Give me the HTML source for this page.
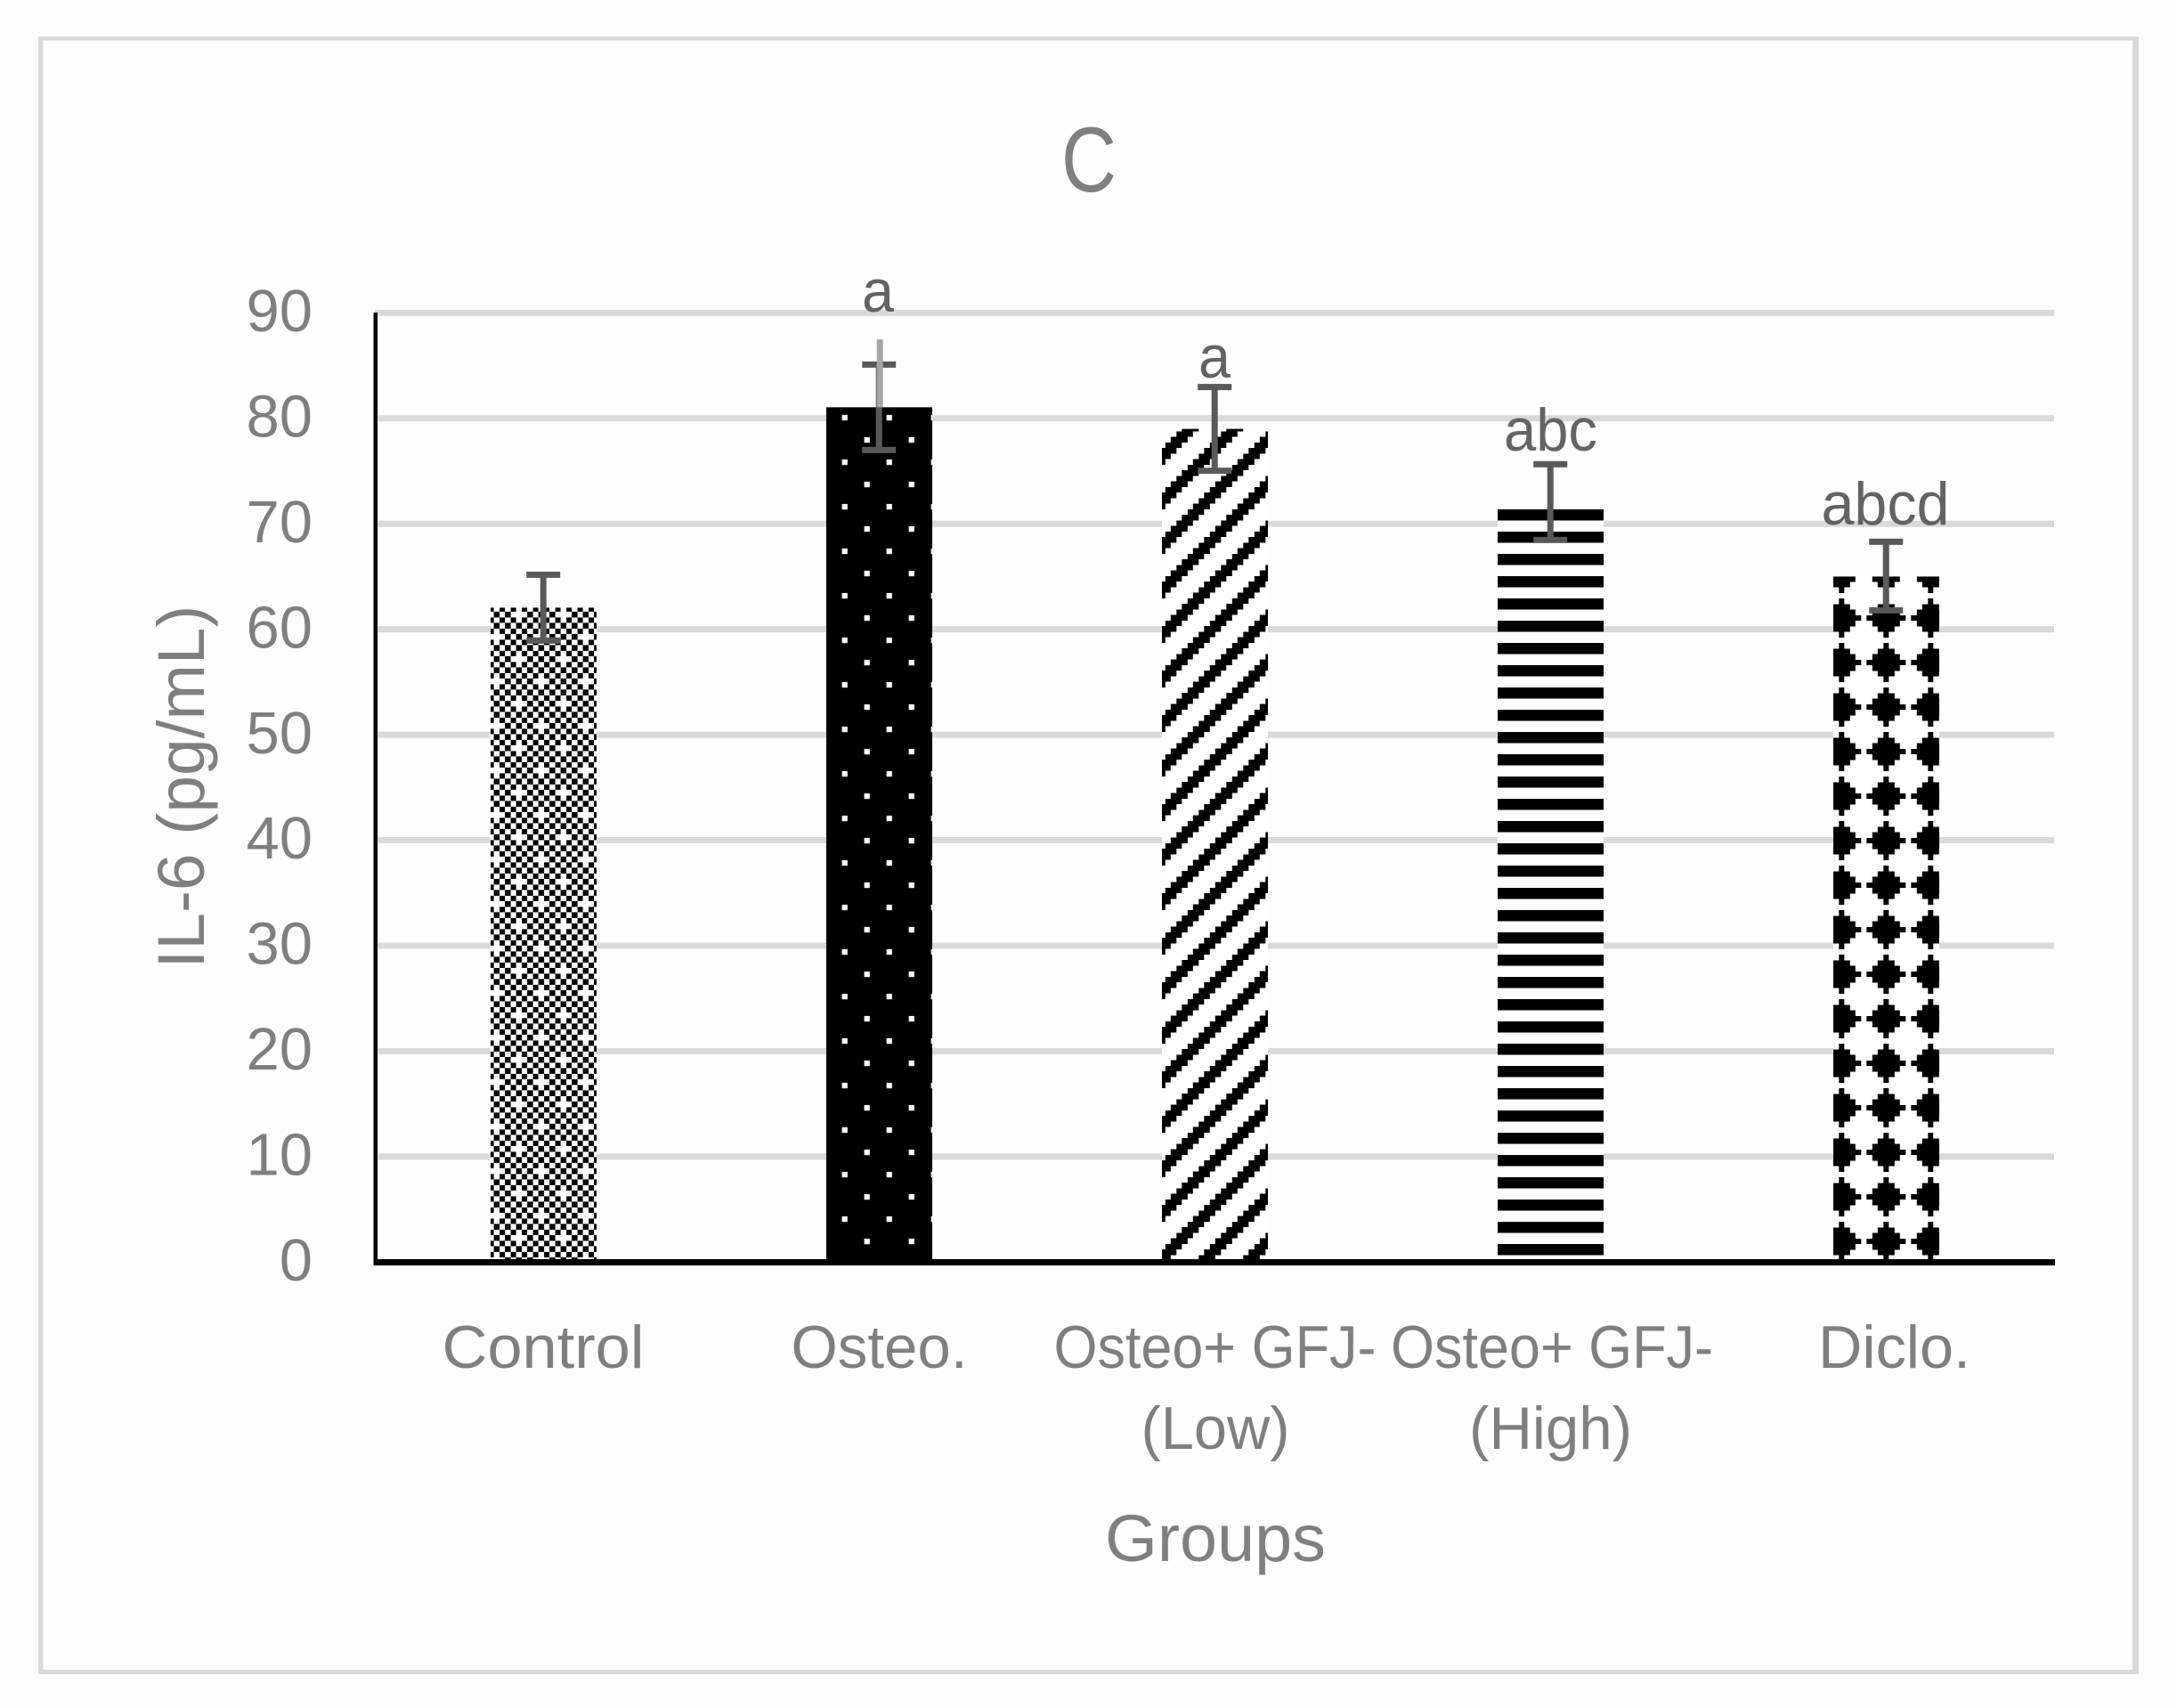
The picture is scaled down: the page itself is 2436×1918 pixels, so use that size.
<!DOCTYPE html>
<html lang="en">
<head>
<meta charset="utf-8">
<title>IL-6 by group</title>
<style>
  html, body { margin: 0; padding: 0; background: #fefefe; }
  svg { display: block; }
  text { font-family: "Liberation Sans", sans-serif; fill: #7f7f7f; }
  .sig { fill: #636363; font-size: 68px; text-anchor: middle; }
  .cat { font-size: 68px; text-anchor: middle; }
</style>
</head>
<body>
<svg id="chart" xmlns="http://www.w3.org/2000/svg" width="2436" height="1918" viewBox="0 0 2436 1918">
  <defs>
    <pattern id="p-checker" patternUnits="userSpaceOnUse" x="579.6" y="786.9" width="50" height="50">
      <rect width="50" height="50" fill="#fff"/><path id="d-checker" fill="#000" shape-rendering="crispEdges"/>
    </pattern>
    <pattern id="p-dots" patternUnits="userSpaceOnUse" x="945.6" y="465.9" width="50" height="50">
      <rect width="50" height="50" fill="#000"/>
      <rect x="0" y="0" width="6.25" height="6.25" fill="#fff"/>
      <rect x="25" y="25" width="6.25" height="6.25" fill="#fff"/>
    </pattern>
    <pattern id="p-diagonal" patternUnits="userSpaceOnUse" x="1327.3" y="478" width="50" height="50">
      <rect width="50" height="50" fill="#fff"/><path id="d-diagonal" fill="#000" shape-rendering="crispEdges"/>
    </pattern>
    <pattern id="p-hstripe" patternUnits="userSpaceOnUse" x="0" y="572" width="50" height="25">
      <rect width="50" height="25" fill="#fff"/>
      <rect width="50" height="12.5" fill="#000"/>
    </pattern>
    <pattern id="p-diamond" patternUnits="userSpaceOnUse" x="2093.3" y="669" width="50" height="50">
      <rect width="50" height="50" fill="#fff"/><path id="d-diamond" fill="#000" shape-rendering="crispEdges"/>
    </pattern>
  </defs>

  <rect width="2436" height="1918" fill="#fefefe"/>
  <g fill="#d9d9d9">
    <rect x="43" y="41" width="2359" height="4.5"/>
    <rect x="43" y="1875" width="2359" height="5"/>
    <rect x="43" y="41" width="5.5" height="1839"/>
    <rect x="2395" y="41" width="7" height="1839"/>
  </g>

  <text x="1223" y="215" font-size="104" text-anchor="middle" textLength="62" lengthAdjust="spacingAndGlyphs">C</text>

  <g id="grid"></g>
  <g id="yticks"></g>
  <g id="bars"></g>

  <rect x="419.5" y="351" width="4.5" height="1070" fill="#000"/>
  <rect x="421" y="1414" width="1887" height="7" fill="#000"/>

  <g id="errors"></g>

  <text class="sig" x="986" y="350" textLength="36" lengthAdjust="spacingAndGlyphs">a</text>
  <text class="sig" x="1364" y="424" textLength="36" lengthAdjust="spacingAndGlyphs">a</text>
  <text class="sig" x="1741.5" y="506" textLength="105" lengthAdjust="spacingAndGlyphs">abc</text>
  <text class="sig" x="2117.5" y="589" textLength="144" lengthAdjust="spacingAndGlyphs">abcd</text>

  <g>
    <text class="cat" x="610" y="1536" textLength="227" lengthAdjust="spacingAndGlyphs">Control</text>
    <text class="cat" x="987.5" y="1536" textLength="198" lengthAdjust="spacingAndGlyphs">Osteo.</text>
    <text class="cat" x="1364.5" y="1536" textLength="362" lengthAdjust="spacingAndGlyphs">Osteo+ GFJ-</text>
    <text class="cat" x="1365" y="1627" textLength="167" lengthAdjust="spacingAndGlyphs">(Low)</text>
    <text class="cat" x="1743" y="1536" textLength="362" lengthAdjust="spacingAndGlyphs">Osteo+ GFJ-</text>
    <text class="cat" x="1741.5" y="1627" textLength="183" lengthAdjust="spacingAndGlyphs">(High)</text>
    <text class="cat" x="2127.5" y="1536" textLength="171" lengthAdjust="spacingAndGlyphs">Diclo.</text>
  </g>

  <text x="1365" y="1753" font-size="74" text-anchor="middle" textLength="248" lengthAdjust="spacingAndGlyphs">Groups</text>
  <text transform="translate(229 883.5) rotate(-90)" font-size="74" text-anchor="middle" textLength="408" lengthAdjust="spacingAndGlyphs">IL-6 (pg/mL)</text>
</svg>

<script>
const categories = ['Control', 'Osteo.', 'Osteo+ GFJ- (Low)', 'Osteo+ GFJ- (High)', 'Diclo.'];
const il6Values = [62.05, 81.05, 79.0, 71.4, 65.0];
const errorUp = [3.12, 4.05, 3.97, 4.25, 3.3];
const errorDown = [3.12, 4.05, 3.97, 2.93, 3.2];
const strayWhiskerUp = [0, 6.44, 0, 0, 0];
const yTicks = [0, 10, 20, 30, 40, 50, 60, 70, 80, 90];
const barPatterns = ['p-checker', 'p-dots', 'p-diagonal', 'p-hstripe', 'p-diamond'];

const SVG_NS = 'http://www.w3.org/2000/svg';
const CELL = 6.25;

function xScale(i) { return 610.5 + i * 377; }
function yScale(v) { return 1417.3 - v * 11.844; }

function rect(parent, x, y, w, h, fill) {
  const el = document.createElementNS(SVG_NS, 'rect');
  el.setAttribute('x', x);
  el.setAttribute('y', y);
  el.setAttribute('width', w);
  el.setAttribute('height', h);
  el.setAttribute('fill', fill);
  parent.appendChild(el);
  return el;
}
function cell(c, r, n) {
  return 'M' + (c * CELL) + ' ' + (r * CELL) + 'h' + (n * CELL) + 'v' + CELL + 'h' + (-n * CELL) + 'z';
}

/* pattern tiles */
let checker = '';
for (let r = 0; r < 8; r++) {
  for (let c = 0; c < 8; c++) {
    if ((c + r) % 2 === 0 && !(c === 0 && r === 0) && !(c === 4 && r === 4)) checker += cell(c, r, 1);
  }
}
document.getElementById('d-checker').setAttribute('d', checker);

let diagonal = '';
for (let r = 0; r < 8; r++) {
  for (let k = 0; k < 3; k++) {
    const c = ((k - r) % 8 + 8) % 8;
    diagonal += cell(c, r, 1);
  }
}
document.getElementById('d-diagonal').setAttribute('d', diagonal);

let diamond = '';
for (let r = -3; r <= 3; r++) {
  const n = 7 - 2 * Math.abs(r);
  diamond += 'M' + (25 - n * CELL / 2) + ' ' + (25 + r * CELL - CELL / 2) + 'h' + (n * CELL) + 'v' + CELL + 'h' + (-n * CELL) + 'z';
}
document.getElementById('d-diamond').setAttribute('d', diamond);

/* gridlines and y tick labels */
const gridGroup = document.getElementById('grid');
const tickGroup = document.getElementById('yticks');
yTicks.forEach(function (t) {
  if (t !== 0) {
    const line = rect(gridGroup, 421, yScale(t) - 3.5, 1886, 7, '#d9d9d9');
    
    
  }
  const label = document.createElementNS(SVG_NS, 'text');
  label.setAttribute('x', 351);
  label.setAttribute('y', yScale(t) + 20.7);
  label.setAttribute('font-size', 67);
  label.setAttribute('text-anchor', 'end');
  label.textContent = String(t);
  
  
  tickGroup.appendChild(label);
});

/* bars */
const barGroup = document.getElementById('bars');
const BAR_W = 119;
il6Values.forEach(function (v, i) {
  const top = yScale(v);
  const h = yScale(0) - top;
  const bar = rect(barGroup, xScale(i) - BAR_W / 2, top, BAR_W, h, 'url(#' + barPatterns[i] + ')');
  
  
});

/* error bars */
const errGroup = document.getElementById('errors');
const ERR = '#595959';
il6Values.forEach(function (v, i) {
  const cx = xScale(i) - 0.3;
  const yHi = yScale(v + errorUp[i]);
  const yLo = yScale(v - errorDown[i]);
  const g = document.createElementNS(SVG_NS, 'g');
  
  
  errGroup.appendChild(g);
  rect(g, cx - 3.5, yHi, 7, yLo - yHi, ERR);
  rect(g, cx - 19, yHi - 3.5, 38, 7, ERR);
  rect(g, cx - 19, yLo - 3.5, 38, 7, ERR);
  if (strayWhiskerUp[i] > 0) {
    const stray = rect(g, cx - 2.5, yScale(v + strayWhiskerUp[i]), 7, yScale(v) - yScale(v + strayWhiskerUp[i]), '#a6a6a6');
    
    
  }
});
</script>
</body>
</html>
